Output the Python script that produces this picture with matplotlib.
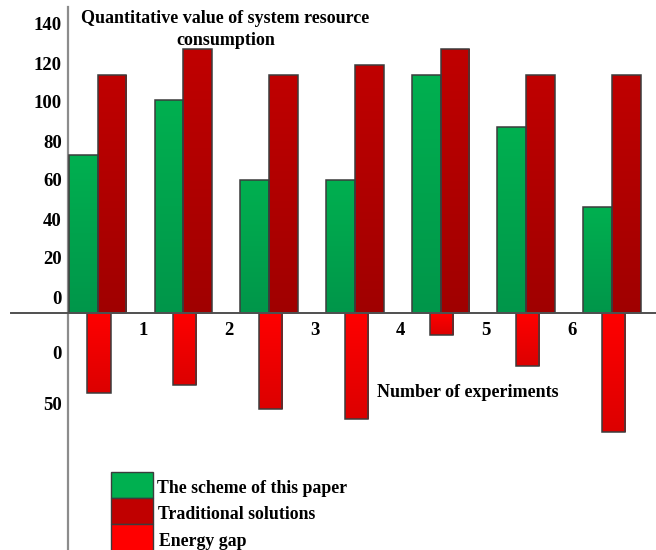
import numpy as np
import matplotlib
matplotlib.use('Agg')
import matplotlib.pyplot as plt
from matplotlib.colors import LinearSegmentedColormap
from matplotlib.patches import Rectangle

plt.rcParams['font.family'] = ['Liberation Serif', 'DejaVu Serif']
plt.rcParams['font.weight'] = 'bold'
plt.rcParams['axes.labelweight'] = 'bold'

# ---------------- data ----------------
experiments = np.arange(7)
x_tick_labels = ['1', '2', '3', '4', '5', '6']
scheme = [73, 101, 60, 60, 114, 87, 46]
traditional = [114, 127, 114, 119, 127, 114, 114]
energy_gap = [41, 37, 49, 54, 11, 27, 61]
upper_ticks = [0, 20, 40, 60, 80, 100, 120, 140]
lower_tick_labels = ['0', '50']
legend_labels = ['The scheme of this paper', 'Traditional solutions', 'Energy gap']
title = 'Quantitative value of system resource\nconsumption'
xlabel = 'Number of experiments'

# ---------------- layout ----------------
W, H = 656, 550
fig = plt.figure(figsize=(W / 100, H / 100), dpi=100)
ax_left, ax_top = 68, 7.3
ax = fig.add_axes([ax_left / W, 0, 1 - ax_left / W, (H - ax_top) / H])

px_per_group = 85.7
x0_px = 97.7
px_per_unit = 1.95
zero_px = 297.0
base_px = 313.3


def ydata(py):
    return (zero_px - py) / px_per_unit


def xdata(px):
    return (px - x0_px) / px_per_group


base = ydata(base_px)

colors = {
    'green': ('#00b050', '#00964a'),
    'dark': ('#c00000', '#a00000'),
    'red': ('#ff0000', '#dc0000'),
}
edge = '#3c3c3c'


def gradient_fill(container, top_c, bot_c):
    cmap = LinearSegmentedColormap.from_list('g', [top_c, bot_c])
    grad = np.linspace(0, 1, 256).reshape(-1, 1)
    for rect in container:
        x, y = rect.get_xy()
        w, h = rect.get_width(), rect.get_height()
        y0, y1 = min(y, y + h), max(y, y + h)
        im = ax.imshow(grad, extent=(x, x + w, y0, y1), origin='upper',
                       aspect='auto', cmap=cmap, zorder=2,
                       interpolation='bilinear')
        im.set_clip_path(rect)


bw = 0.336
b1 = ax.bar(experiments - bw / 2, np.array(scheme) - base, bottom=base,
            width=bw, facecolor='none', edgecolor=edge, linewidth=1.1, zorder=3,
            label=legend_labels[0])
b2 = ax.bar(experiments + bw / 2, np.array(traditional) - base, bottom=base,
            width=bw, facecolor='none', edgecolor=edge, linewidth=1.1, zorder=3,
            label=legend_labels[1])
b3 = ax.bar(experiments + 0.015, -np.array(energy_gap), bottom=base,
            width=0.27, facecolor='none', edgecolor=edge, linewidth=1.1, zorder=3,
            label=legend_labels[2])
gradient_fill(b1, *colors['green'])
gradient_fill(b2, *colors['dark'])
gradient_fill(b3, *colors['red'])

ax.set_xlim(xdata(ax_left), xdata(W))
ax.set_ylim(ydata(H), ydata(ax_top))

# baseline extending left of the axis
ax.axhline(base, xmin=(10.7 - ax_left) / (W - ax_left), xmax=1,
           color='#505050', linewidth=1.4, clip_on=False, zorder=4)

for s in ['top', 'right']:
    ax.spines[s].set_visible(False)
ax.spines['left'].set_color('#8c8c8c')
ax.spines['left'].set_linewidth(1.6)
ax.spines['bottom'].set_position(('data', base))
ax.spines['bottom'].set_visible(False)

lower_pos = [ydata(352.7), ydata(404)]
ax.set_yticks(upper_ticks + lower_pos,
              [str(t) for t in upper_ticks] + lower_tick_labels)
ax.tick_params(axis='y', length=0, pad=4.5, labelsize=13.5)
ax.set_xticks(experiments[:-1] + 0.53, x_tick_labels)
ax.tick_params(axis='x', length=0, pad=6, labelsize=13.5)

ax.set_ylabel(title, rotation=0, ha='center', va='center', fontsize=13,
              linespacing=1.4, fontweight='bold')
ax.yaxis.set_label_coords((225.5 - ax_left) / (W - ax_left), (H - 29.5) / (H - ax_top))

ax.set_xlabel(xlabel, fontsize=13, fontweight='bold')
ax.xaxis.label.set_va('center')
ax.xaxis.set_label_coords((467.5 - ax_left) / (W - ax_left), (H - 392.7) / (H - ax_top))

# ---------------- legend (drawn manually, pixel layout) ----------------
row_h = 26.3
leg_top = 471.7
text_x = [157.3, 158.3, 159.3]
text_dy = [16.6, 16.3, 17.0]
for i, (k, lab) in enumerate(zip(['green', 'dark', 'red'], legend_labels)):
    top = leg_top + i * row_h
    fig.add_artist(Rectangle((110.7 / W, (H - top - row_h) / H), 42 / W, row_h / H,
                             transform=fig.transFigure, facecolor=colors[k][0],
                             edgecolor=edge, linewidth=1, clip_on=False))
    fig.text(text_x[i] / W, (H - top - text_dy[i]) / H, lab, ha='left',
             va='center', fontsize=12.8, fontweight='bold')

fig.savefig('out.png', dpi=100)
